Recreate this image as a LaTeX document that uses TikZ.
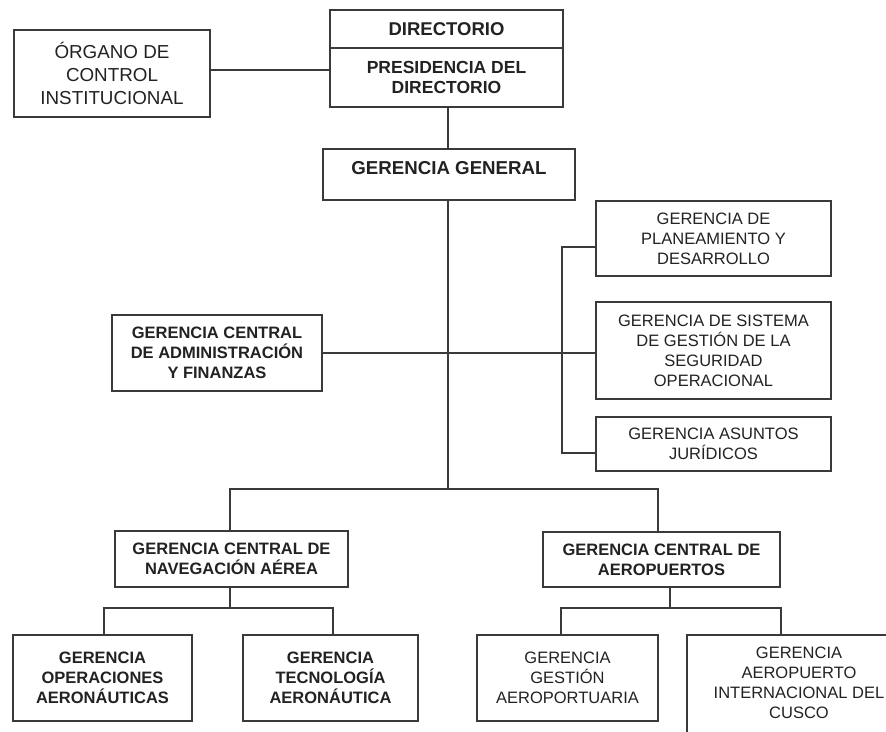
\documentclass[tikz,border=0pt]{standalone}
\usepackage{fontspec}
\setmainfont{Liberation Sans}
\definecolor{lineC}{HTML}{3A3A3A}
\definecolor{textC}{HTML}{222222}
\begin{document}
\begin{tikzpicture}[x=1pt,y=-1pt,
  box/.style={draw=lineC, line width=1.3pt, inner sep=0pt, align=center, text=textC},
  conn/.style={draw=lineC, line width=1.2pt},
  bf/.style={font=\bfseries\fontsize{16.5}{20}\selectfont},
  rg/.style={font=\fontsize{16.5}{20}\selectfont}]
\useasboundingbox (0,0) rectangle (886,731);
\clip (0,0) rectangle (886,731);
\fill[white] (0,0) rectangle (886,731);

% nodes
\node[box, font=\fontsize{18.8}{23}\selectfont, minimum width=196pt, minimum height=87pt] (organo) at (112,73.5) {ÓRGANO DE\\CONTROL\\INSTITUCIONAL};
\node[box, font=\bfseries\fontsize{18.5}{22}\selectfont, minimum width=233pt, minimum height=38pt] (dir) at (446.5,29) {DIRECTORIO};
\node[box, font=\bfseries\fontsize{17.5}{20}\selectfont, minimum width=233pt, minimum height=59pt] (pres) at (446.5,77.5) {PRESIDENCIA DEL\\DIRECTORIO};
\node[box, minimum width=252pt, minimum height=51pt,
  label={[font=\bfseries\fontsize{18.7}{22}\selectfont, text=textC, yshift=6pt]center:GERENCIA GENERAL}] (gg) at (449,174.5) {};
\node[box, rg, minimum width=235pt, minimum height=75pt] (plan) at (713.5,238.5) {GERENCIA DE\\PLANEAMIENTO Y\\DESARROLLO};
\node[box, rg, minimum width=235pt, minimum height=97pt] (seg) at (713.5,350.5) {GERENCIA DE SISTEMA\\DE GESTIÓN DE LA\\SEGURIDAD\\OPERACIONAL};
\node[box, rg, minimum width=235pt, minimum height=54pt] (jur) at (713.5,444) {GERENCIA ASUNTOS\\JURÍDICOS};
\node[box, bf, minimum width=210pt, minimum height=76pt] (adm) at (217,353) {GERENCIA CENTRAL\\DE ADMINISTRACIÓN\\Y FINANZAS};
\node[box, bf, minimum width=233pt, minimum height=56pt] (nav) at (231.5,559) {GERENCIA CENTRAL DE\\NAVEGACIÓN AÉREA};
\node[box, bf, minimum width=237pt, minimum height=55pt] (aer) at (661.5,559.5) {GERENCIA CENTRAL DE\\AEROPUERTOS};
\node[box, bf, minimum width=179pt, minimum height=86pt] (ope) at (102.5,678) {GERENCIA\\OPERACIONES\\AERONÁUTICAS};
\node[box, bf, minimum width=175pt, minimum height=86pt] (tec) at (330.5,678) {GERENCIA\\TECNOLOGÍA\\AERONÁUTICA};
\node[box, rg, minimum width=181pt, minimum height=86pt] (ges) at (567.5,678) {GERENCIA\\GESTIÓN\\AEROPORTUARIA};
\node[box, minimum width=224pt, minimum height=105pt,
  label={[rg, text=textC, align=center, yshift=4.5pt]center:GERENCIA\\AEROPUERTO\\INTERNACIONAL DEL\\CUSCO}] (cus) at (799,687.5) {};

% connectors
\coordinate (hb) at (448,489);
\draw[conn] ([yshift=3.5pt]organo.east) -- ([yshift=3.5pt]organo.east -| pres.west);
\draw[conn] ([xshift=1.5pt]pres.south) -- ([xshift=1.5pt]pres.south |- gg.north);
\draw[conn] ([xshift=-1pt]gg.south) -- (hb);
\draw[conn] (adm.east) -- (adm.east -| seg.west);
\coordinate (bt) at (562,247);
\coordinate (bb) at (562,453);
\draw[conn] (bt -| plan.west) -- (bt) -- (bb) -- (bb -| jur.west);
\draw[conn] ([xshift=-1.5pt]nav.north) -- ([xshift=-1.5pt]nav.north |- hb) -- ([xshift=-3.5pt]aer.north |- hb) -- ([xshift=-3.5pt]aer.north);
\coordinate (hn) at (230,608);
\draw[conn] ([xshift=-1.5pt]nav.south) -- (hn);
\draw[conn] ([xshift=1.5pt]ope.north) -- ([xshift=1.5pt]ope.north |- hn) -- ([xshift=2.5pt]tec.north |- hn) -- ([xshift=2.5pt]tec.north);
\coordinate (ha) at (670,608);
\draw[conn] (aer.south -| ha) -- (ha);
\coordinate (hl) at (561,608);
\coordinate (hr) at (781,608);
\draw[conn] (ges.north -| hl) -- (hl) -- (hr) -- (cus.north -| hr);
\end{tikzpicture}
\end{document}
